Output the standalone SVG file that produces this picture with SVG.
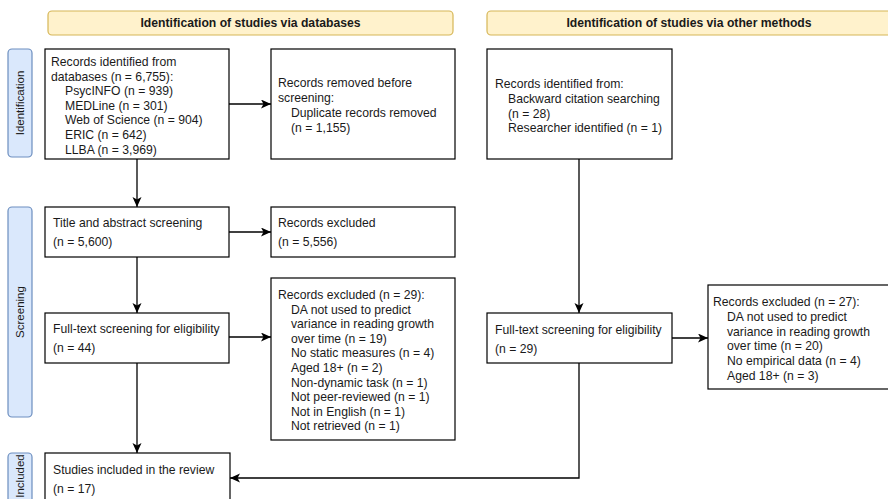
<svg xmlns="http://www.w3.org/2000/svg" width="888" height="499" viewBox="0 0 888 499">
<style>
text{font-family:"Liberation Sans",Arial,Helvetica,sans-serif;font-size:12.2px;fill:#1a1a1a}
.hdr{fill:#fff2cc;stroke:#d6b656;stroke-width:1.2}
.hdrt{font-weight:bold;text-anchor:middle}
.side{fill:#dae8fc;stroke:#6c8ebf;stroke-width:1.2}
.sidet{text-anchor:middle;font-size:11.5px}
.box{fill:#fff;stroke:#000;stroke-width:1.2}
.con{fill:none;stroke:#000;stroke-width:1.3;marker-end:url(#arr)}
</style>
<defs>
<marker id="arr" markerUnits="userSpaceOnUse" markerWidth="12" markerHeight="10" refX="10" refY="4.5" orient="auto">
<path d="M0,0 L10,4.5 L0,9 L2.5,4.5 Z" fill="#000"/>
</marker>
</defs>
<rect width="888" height="499" fill="#fff"/>
<g id="header-databases"><rect class="hdr" x="48" y="11" width="405" height="24" rx="4"/><text class="hdrt" x="250.5" y="27">Identification of studies via databases</text></g>
<g id="header-other"><rect class="hdr" x="487" y="11" width="405" height="24" rx="4"/><text class="hdrt" x="689" y="27">Identification of studies via other methods</text></g>
<g id="label-identification"><rect class="side" x="8" y="49" width="24" height="108" rx="4"/><text class="sidet" transform="translate(24,103) rotate(-90)">Identification</text></g>
<g id="label-screening"><rect class="side" x="8" y="207" width="24" height="210" rx="4"/><text class="sidet" transform="translate(24,312) rotate(-90)">Screening</text></g>
<g id="label-included"><rect class="side" x="8" y="453" width="24" height="60" rx="4"/><text class="sidet" transform="translate(24,476) rotate(-90)">Included</text></g>
<g id="records-databases"><rect class="box" x="45" y="49" width="184" height="110"/>
<text x="51" y="66">Records identified from</text>
<text x="51" y="80.6">databases (n = 6,755):</text>
<text x="65" y="95.2">PsycINFO (n = 939)</text>
<text x="65" y="109.8">MEDLine (n = 301)</text>
<text x="65" y="124.4">Web of Science (n = 904)</text>
<text x="65" y="139">ERIC (n = 642)</text>
<text x="65" y="153.6">LLBA (n = 3,969)</text></g>
<g id="records-removed"><rect class="box" x="271" y="49" width="184" height="110"/>
<text x="278" y="87">Records removed before</text>
<text x="278" y="101.6">screening:</text>
<text x="291" y="116.8">Duplicate records removed</text>
<text x="291" y="131.6">(n = 1,155)</text></g>
<g id="records-other"><rect class="box" x="487" y="49" width="185" height="110"/>
<text x="495" y="87.5">Records identified from:</text>
<text x="508" y="103">Backward citation searching</text>
<text x="508" y="117.6">(n = 28)</text>
<text x="508" y="132.2">Researcher identified (n = 1)</text></g>
<g id="title-abstract"><rect class="box" x="45" y="207" width="184" height="50"/>
<text x="53" y="227">Title and abstract screening</text>
<text x="53" y="246">(n = 5,600)</text></g>
<g id="excluded-5556"><rect class="box" x="271" y="207" width="184" height="50"/>
<text x="278" y="227">Records excluded</text>
<text x="278" y="246">(n = 5,556)</text></g>
<g id="fulltext-db"><rect class="box" x="45" y="313" width="184" height="50"/>
<text x="53" y="333">Full-text screening for eligibility</text>
<text x="53" y="352">(n = 44)</text></g>
<g id="excluded-29"><rect class="box" x="271" y="278" width="184" height="162"/>
<text x="278" y="299">Records excluded (n = 29):</text>
<text x="291" y="313.6">DA not used to predict</text>
<text x="291" y="328.2">variance in reading growth</text>
<text x="291" y="342.8">over time (n = 19)</text>
<text x="291" y="357.4">No static measures (n = 4)</text>
<text x="291" y="372">Aged 18+ (n = 2)</text>
<text x="291" y="386.6">Non-dynamic task (n = 1)</text>
<text x="291" y="401.2">Not peer-reviewed (n = 1)</text>
<text x="291" y="415.8">Not in English (n = 1)</text>
<text x="291" y="430.4">Not retrieved (n = 1)</text></g>
<g id="fulltext-other"><rect class="box" x="487" y="313" width="185" height="50"/>
<text x="495" y="334">Full-text screening for eligibility</text>
<text x="495" y="353">(n = 29)</text></g>
<g id="excluded-27"><rect class="box" x="708" y="285" width="190" height="104"/>
<text x="713" y="306">Records excluded (n = 27):</text>
<text x="727" y="320.8">DA not used to predict</text>
<text x="727" y="335.6">variance in reading growth</text>
<text x="727" y="350.4">over time (n = 20)</text>
<text x="727" y="365.2">No empirical data (n = 4)</text>
<text x="727" y="380">Aged 18+ (n = 3)</text></g>
<g id="included"><rect class="box" x="45" y="453" width="185" height="60"/>
<text x="53" y="474">Studies included in the review</text>
<text x="53" y="493">(n = 17)</text></g>
<g id="connectors">
<path class="con" d="M229,104 L271,104"/>
<path class="con" d="M137,159 L137,207"/>
<path class="con" d="M229,232 L271,232"/>
<path class="con" d="M137,257 L137,313"/>
<path class="con" d="M229,337 L271,337"/>
<path class="con" d="M137,363 L137,453"/>
<path class="con" d="M579,159 L579,313"/>
<path class="con" d="M672,338 L708,338"/>
<path class="con" d="M579,363 L579,478 L230,478"/>
</g>
</svg>
